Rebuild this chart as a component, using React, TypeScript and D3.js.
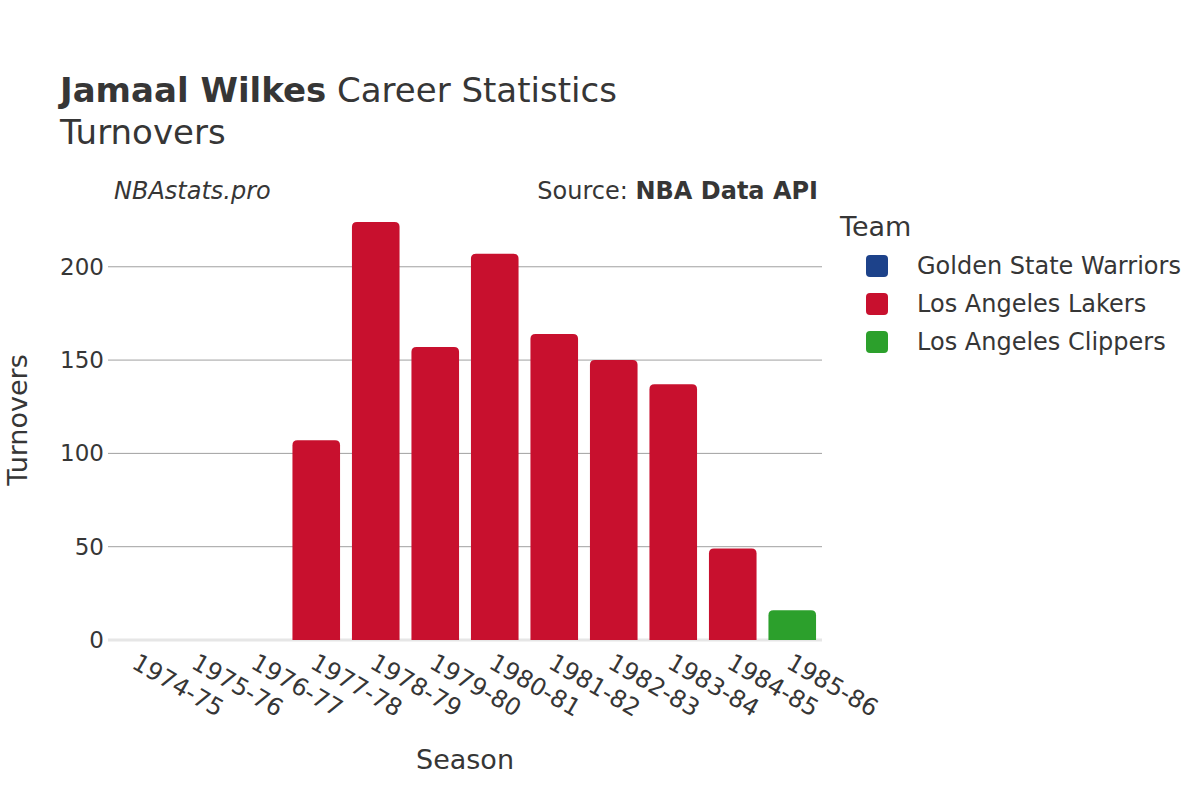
import React from "react";
import * as d3 from "d3";

const seasons = [
  "1974-75", "1975-76", "1976-77", "1977-78", "1978-79", "1979-80",
  "1980-81", "1981-82", "1982-83", "1983-84", "1984-85", "1985-86",
];
const warriorsTOV = [0, 0, 0, null, null, null, null, null, null, null, null, null];
const lakersTOV = [null, null, null, 107, 224, 157, 207, 164, 150, 137, 49, null];
const clippersTOV = [null, null, null, null, null, null, null, null, null, null, null, 16];
const teamNames = ["Golden State Warriors", "Los Angeles Lakers", "Los Angeles Clippers"];
const teamColors = ["#1D428A", "#C8102E", "#2CA02C"];
const yTicks = [0, 50, 100, 150, 200];

const W = 1200;
const H = 800;
const FONT = "'DejaVu Sans', sans-serif";
const TXT = "#363636";

const series = [warriorsTOV, lakersTOV, clippersTOV];

function topRoundedBar(x: number, y: number, w: number, h: number, r: number) {
  const rr = Math.min(r, h / 2, w / 2);
  if (h <= 0) return "";
  return `M${x},${y + h} L${x},${y + rr} Q${x},${y} ${x + rr},${y} L${x + w - rr},${y} Q${x + w},${y} ${x + w},${y + rr} L${x + w},${y + h} Z`;
}

export default function App() {
  const maxV = d3.max(series.flat().map((v) => (v == null ? 0 : v))) as number;
  const x = d3.scaleBand<string>().domain(seasons).range([108, 822]).paddingInner(0.2).paddingOuter(0.1);
  const y = d3.scaleLinear().domain([0, maxV * 1.0526]).range([640, 200]);

  const bars: { key: string; x: number; y: number; w: number; h: number; color: string }[] = [];
  series.forEach((vals, ti) => {
    vals.forEach((v, i) => {
      if (v == null || v <= 0) return;
      const bx = x(seasons[i]) as number;
      bars.push({ key: `${ti}-${i}`, x: bx, y: y(v), w: x.bandwidth(), h: y(0) - y(v), color: teamColors[ti] });
    });
  });

  return (
    <svg width={W} height={H} style={{ position: "absolute", left: 0, top: 0, background: "#fff" }} fontFamily={FONT}>
      <rect x={0} y={0} width={W} height={H} fill="#fff" />
      {/* title */}
      <text x={60} y={102} fontSize={34} fill={TXT}>
        <tspan fontWeight="bold">Jamaal Wilkes</tspan>
        <tspan> Career Statistics</tspan>
      </text>
      <text x={60} y={144} fontSize={34} fill={TXT}>Turnovers</text>
      <text x={114} y={199} fontSize={24} fill={TXT} fontStyle="italic">NBAstats.pro</text>
      <text x={818} y={199} fontSize={24} fill={TXT} textAnchor="end">
        <tspan>Source: </tspan>
        <tspan fontWeight="bold">NBA Data API</tspan>
      </text>

      {/* grid */}
      {yTicks.filter((t) => t !== 0).map((t) => (
        <line key={`g${t}`} x1={108} x2={822} y1={y(t)} y2={y(t)} stroke="#a0a0a0" strokeWidth={1} />
      ))}
      <line x1={108} x2={822} y1={y(0)} y2={y(0)} stroke="#e6e6e6" strokeWidth={3} />

      {/* bars */}
      {bars.map((b) => (
        <path key={b.key} d={topRoundedBar(b.x, b.y, b.w, b.h, 5)} fill={b.color} />
      ))}

      {/* y ticks */}
      {yTicks.map((t) => (
        <text key={`yt${t}`} x={104} y={y(t)} dy="0.35em" textAnchor="end" fontSize={23} fill={TXT}>
          {t}
        </text>
      ))}

      {/* x ticks */}
      {seasons.map((s) => {
        const cx = (x(s) as number) + x.bandwidth() / 2;
        return (
          <text key={`xt${s}`} transform={`translate(${cx - 3},${660}) rotate(30)`} dy="0.35em" textAnchor="start" fontSize={24} fill={TXT}>
            {s}
          </text>
        );
      })}

      {/* axis titles */}
      <text x={465} y={769} textAnchor="middle" fontSize={27} fill={TXT}>Season</text>
      <text transform={`translate(27,420) rotate(-90)`} textAnchor="middle" fontSize={27} fill={TXT}>Turnovers</text>

      {/* legend */}
      <text x={840} y={236} fontSize={27} fill={TXT}>Team</text>
      {teamNames.map((n, i) => {
        const cy = 266 + i * 38;
        return (
          <g key={n}>
            <rect x={866} y={cy - 11} width={22} height={22} rx={4} fill={teamColors[i]} />
            <text x={917} y={cy} dy="0.35em" fontSize={24} fill={TXT}>{n}</text>
          </g>
        );
      })}
    </svg>
  );
}
